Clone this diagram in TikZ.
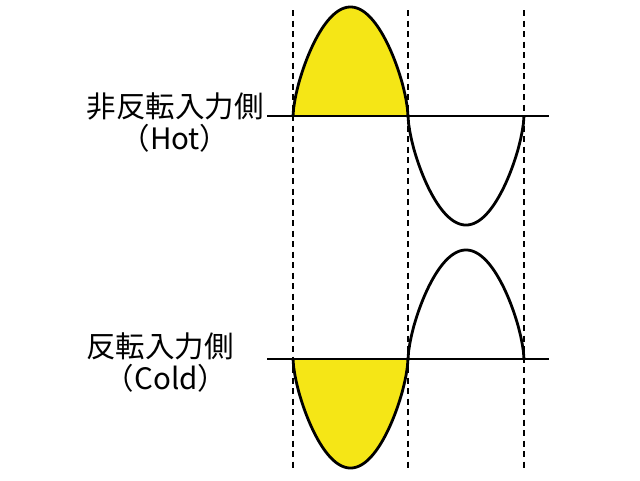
\documentclass[tikz,border=0pt]{standalone}
\usepackage{fontspec}
\newfontfamily\jpfont{Noto Sans CJK JP}
\definecolor{hump}{RGB}{245,230,22}
\tikzset{
  axisline/.style={line width=2.4pt, black},
  wave/.style={line width=2.8pt, black, line join=round},
  guide/.style={line width=1.6pt, black, dash pattern=on 6pt off 4.5pt},
  lbl/.style={font=\jpfont\fontsize{29.5}{32}\selectfont, inner sep=0pt, anchor=center}
}
\begin{document}
\begin{tikzpicture}[x=1pt,y=-1pt,
  declare function={arch(\t)=109*exp(0.65*ln(sin(\t)));}]
\useasboundingbox[fill=white] (0,0) rectangle (640,480);
% guides
\coordinate (g1t) at (293,10); \coordinate (g1b) at (293,470);
\coordinate (g2t) at (408,10); \coordinate (g2b) at (408,470);
\coordinate (g3t) at (524,10); \coordinate (g3b) at (524,470);
\draw[guide] (g1t) -- (g1b);
\draw[guide] (g2t) -- (g2b);
\draw[guide] (g3t) -- (g3b);
% fills
\fill[hump] (293,116) -- plot[domain=1:179,samples=90] ({293+\x/180*115},{116-arch(\x)}) -- (408,116) -- cycle;
\fill[hump] (293,359) -- plot[domain=1:179,samples=90] ({293+\x/180*115},{359+arch(\x)}) -- (408,359) -- cycle;
% axes
\coordinate (a1l) at (267,116); \coordinate (a1r) at (549,116);
\coordinate (a2l) at (267,359); \coordinate (a2r) at (549,359);
\draw[axisline] (a1l) -- (a1r);
\draw[axisline] (a2l) -- (a2r);
% waves
\draw[wave] (293,116) -- plot[domain=1:179,samples=90] ({293+\x/180*115},{116-arch(\x)}) -- (408,116)
  -- plot[domain=1:179,samples=90] ({408+\x/180*116},{116+arch(\x)}) -- (524,116);
\draw[wave] (293,359) -- plot[domain=1:179,samples=90] ({293+\x/180*115},{359+arch(\x)}) -- (408,359)
  -- plot[domain=1:179,samples=90] ({408+\x/180*116},{359-arch(\x)}) -- (524,359);
% labels
\node[lbl] (hot1) at (175,106) {非反転入力側};
\node[lbl] (hot2) at (175,138) {（Hot）};
\node[lbl] (cold1) at (160,346) {反転入力側};
\node[lbl] (cold2) at (166,378) {（Cold）};
\end{tikzpicture}
\end{document}
